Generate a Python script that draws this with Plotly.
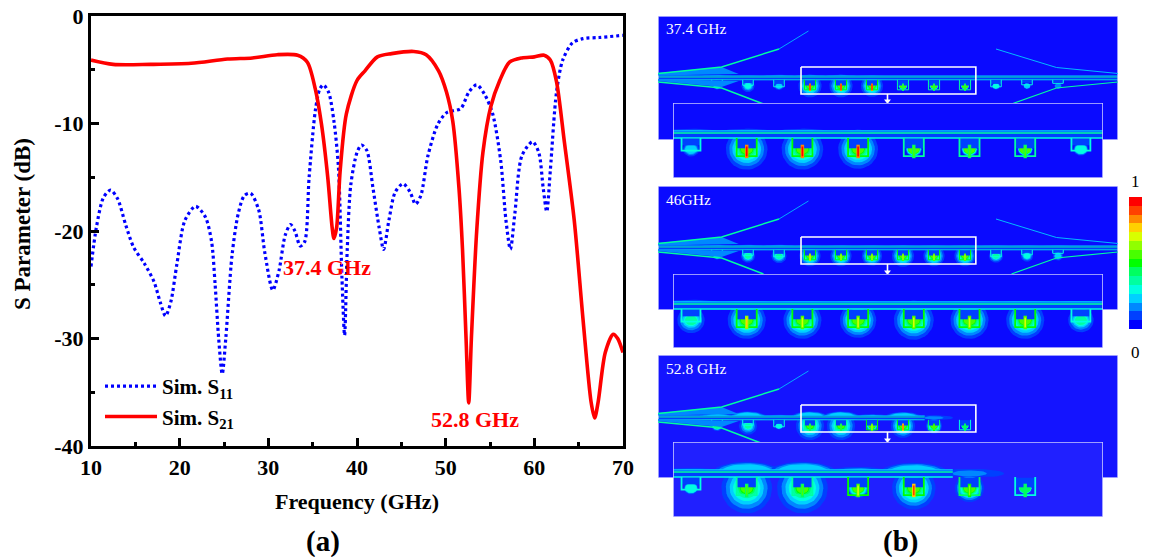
import numpy as np
import plotly.graph_objects as go

W, H = 1152, 557
FONT = "Liberation Serif"

# ---------- panel (a) data ----------
f_s11 = [10,10.6,11.4,12.2,13,13.9,14.8,16,17.1,17.8,18.4,19,19.7,20.6,21.8,22.9,23.6,24,24.4,24.8,25.2,25.9,26.6,27.3,28,28.9,29.6,30.5,31.2,31.9,32.5,33,33.6,34.1,34.6,35.3,35.8,36.2,36.8,37.4,37.9,38.3,38.6,38.9,39.3,40,40.5,41.1,41.8,42.5,43,43.6,44.3,45.2,46,46.6,47.2,48,49.1,50.1,51.7,52.6,53.5,54.4,55.3,56.2,56.8,57.3,57.8,58.6,59.8,60.5,61,61.4,61.8,62.5,63.2,64.3,65.5,67.3,70]
s11 = [-23.3,-19.7,-16.9,-16.2,-17,-19.4,-21.5,-23,-24.7,-26.6,-27.9,-26.6,-23,-19,-17.7,-18.7,-21,-25,-30,-33.3,-30,-22.3,-18.4,-16.7,-16.5,-18,-22,-25.5,-23.7,-20.4,-19.4,-20,-21.4,-21,-15,-8.8,-6.8,-6.4,-7.1,-9.8,-14,-24.3,-29.7,-21.7,-15.7,-12.7,-12,-12.5,-16,-19.7,-21.7,-19,-16.4,-15.6,-16.4,-17.5,-16.7,-13,-10.1,-9,-8.6,-7.1,-6.4,-7.3,-9.1,-13.4,-19,-21.7,-18.4,-13,-11.7,-12.7,-16,-18.2,-14.4,-7.1,-4.1,-2.5,-2.1,-2,-1.8]
f_s21 = [10,12.5,16.7,21.3,25.4,28.2,31,33.3,34.4,35.3,36,36.7,37.2,37.4,37.7,38.1,38.8,40,40.9,42.3,43.9,46.4,47.8,49.2,50.1,50.8,51.5,51.9,52.3,52.6,52.9,53.5,54.2,55.1,56.1,57.2,58.6,60,61.1,61.8,62.5,63.4,64.5,65.5,66.4,66.8,67.2,68,68.9,69.4,70]
s21 = [-4.1,-4.5,-4.5,-4.4,-4,-3.9,-3.6,-3.65,-4.3,-6.8,-10.1,-15,-19.7,-20.7,-19.7,-14.4,-9.1,-6,-5.1,-3.8,-3.5,-3.3,-3.6,-5.1,-7.1,-9.8,-16,-21.7,-30,-36,-30,-20,-12.7,-8.4,-6,-4.3,-3.9,-3.8,-3.65,-4.1,-6.1,-11.8,-19,-28.3,-35.9,-37.4,-35.9,-31.3,-29.6,-30,-31.3]

x_ticks = [10,20,30,40,50,60,70]
y_ticks = [0,-10,-20,-30,-40]

# ---------- panel (b) data: field strength per resonator ----------
resonators = [-2,-1,0,1,2,3,4,5,6,7,8,9]
freq_labels = ["37.4 GHz","46GHz","52.8 GHz"]
peak_37 = [3,4,3,14,14,14,8,8,8,4,3,2]
spread_37 = [1,3.5,1.5,8.5,8.5,8,1.5,1.5,1.2,1,.5,.5]
lobe_37 = [3,2,3,3,3,2,0,0,0,0,0,0]
peak_46 = [3,5,5,11,10,10,10,10,10,5,4,3]
spread_46 = [1,4,4.5,7.5,7.5,7,8,7.5,7.5,4,3,2]
lobe_46 = [3,3,3,2,2,2,2,2,2,2,2,2]
peak_52 = [6,5,4,8,8,10,13,9,6,0,0,0]
spread_52 = [2.5,6,1,11,11,3,9,5,.8,0,0,0]
lobe_52 = [6,9,3,9,9,4,8,2,0,0,0,0]
color_levels = ["#0000ff","#0040ff","#0088ff","#00d0ff","#00ffe0","#00ffa0","#00ff60","#00ff00","#48ff00","#90ff00","#d8ff00","#ffd000","#ff8800","#ff4000","#ff0000"]

fig = go.Figure()
layout = {}

fig.add_trace(go.Scatter(x=f_s11, y=s11, mode="lines", name="<b>Sim. S<sub>11</sub></b>",
                         line=dict(color="#0000ff", width=3.2, dash="3px 3px", shape="spline", smoothing=0.8)))
fig.add_trace(go.Scatter(x=f_s21, y=s21, mode="lines", name="<b>Sim. S<sub>21</sub></b>",
                         line=dict(color="#ff0000", width=3.6, shape="spline", smoothing=0.8)))

def dom_x(a, b): return [a / W, b / W]
def dom_y(a, b): return [1 - b / H, 1 - a / H]

axis_style = dict(showline=True, linecolor="black", linewidth=3, mirror=True, ticks="inside", ticklen=8,
                  tickwidth=3, tickcolor="black", showgrid=False, zeroline=False, automargin=False,
                  tickfont=dict(family=FONT, size=22, color="black"),
                  minor=dict(ticks="inside", ticklen=4, tickwidth=3, tickcolor="black", showgrid=False))
layout["xaxis"] = dict(domain=dom_x(91, 623), range=[10, 70], tickvals=x_ticks, ticktext=[f"<b>{v}</b>" for v in x_ticks],
                       minor_dtick=5, minor_tick0=0,
                       title=dict(text="<b>Frequency (GHz)</b>", font=dict(family=FONT, size=22, color="black")),
                       **axis_style)
layout["yaxis"] = dict(domain=dom_y(16, 446), range=[-40, 0], tickvals=y_ticks, ticktext=[f"<b>{v}</b>" for v in y_ticks],
                       minor_dtick=5, minor_tick0=0,
                       **axis_style)

def add(xa, ya, x, y, color, width=0, fill=False, dash=None):
    kw = dict(x=x, y=y, mode="lines", xaxis=xa, yaxis=ya, showlegend=False, hoverinfo="skip",
              line=dict(color=color, width=width, dash=dash))
    if fill:
        kw.update(fill="toself", fillcolor=color, line=dict(color=color, width=width))
    fig.add_trace(go.Scatter(**kw))

def ellipse(cx, cy, rx, ry):
    t = np.linspace(0, 2 * np.pi, 40)
    return cx + rx * np.cos(t), cy + ry * np.sin(t)

def draw_field(xa, ya, xr, yr, peak, spread, lobe, feed_end, s, bg, outline):
    c = color_levels
    add(xa, ya, [xr[0], xr[1], xr[1], xr[0], xr[0]], [yr[0], yr[0], yr[1], yr[1], yr[0]], bg, 0, True)
    # blobs under the resonators
    for i, pk, sp in zip(resonators, peak, spread):
        if pk == 0 or sp == 0:
            continue
        top = min(pk, 8)
        for l in range(1, top + 1):
            k = (1 - (l - 1) / top) ** 1.9
            ex, ey = ellipse(i, 9, sp * k / 31 + 0.1, sp * k * 1.05 + 2.5)
            add(xa, ya, ex, ey, c[l], 0, True)
    # lobes over the feed line: closed at the lower ground edge
    for i, pk, sp, lb in zip(resonators, peak, spread, lobe):
        for l in range(1, min(lb, 3) + 1):
            k = 1 - (l - 1) / max(lb, 1)
            ex, ey = ellipse(i, 0.8, 0.62 * k, (0.7 + lb * .55) * k + .8)
            add(xa, ya, np.clip(ex, xr[0], xr[1]), np.minimum(ey, 2.6), c[l], 0, True)
    # halo of the feed line
    x0, x1 = xr[0], min(feed_end, xr[1])
    add(xa, ya, [x0, x1], [0.8, 0.8], c[1], 4 * s)
    # feed line
    add(xa, ya, [x0, x1], [0, 0], c[5], 0.9 * s)
    add(xa, ya, [x0, x1], [-1.2, -1.2], c[3], 0.7 * s)
    add(xa, ya, [x0, x1], [2.8, 2.8], c[4], 0.8 * s)
    # resonators
    depth = dict(zip(resonators, [3.5, 5.5, 7, 10, 10, 10, 10, 10, 10, 7, 5, 3.5]))
    for i, pk in zip(resonators, peak):
        if pk == 0:
            continue
        d = depth[i]
        hw = 0.18 if 1 <= i <= 6 else 0.17
        add(xa, ya, [i - hw, i + hw, i + hw, i - hw, i - hw], [3.2, 3.2, 3 + d * .55, 3 + d * .55, 3.2], c[1], 0, True)
        ucol = c[min(max(pk - 3, 4), 7)]
        add(xa, ya, [i - hw, i - hw, i + hw, i + hw], [2.8, 2.8 + d, 2.8 + d, 2.8], ucol, 1.0 * s)
        if 1 <= i <= 6:
            add(xa, ya, [i, i], [6.5, 14], c[max(pk - 2, 6)], 1.9 * s)
            add(xa, ya, [i, i], [7.5, 13], c[pk], 0.9 * s)

PANELS = [
    dict(top=16, bot=140, line=77, it=103, ib=178, box=(-10, 17), lbl=freq_labels[0], peak=peak_37, spread=spread_37, lobe=lobe_37, end=99, arms=True, bg="#0a0aff", ibg="#0a0aff"),
    dict(top=186, bot=310, line=247, it=274, ib=348, box=(-10, 17), lbl=freq_labels[1], peak=peak_46, spread=spread_46, lobe=lobe_46, end=99, arms=True, bg="#0a0aff", ibg="#0a0aff"),
    dict(top=355, bot=478, line=417, it=442, ib=517, box=(-12, 15), lbl=freq_labels[2], peak=peak_52, spread=spread_52, lobe=lobe_52, end=4.7, arms=False, bg="#1414ff", ibg="#2020ff"),
]
OUT = "#c8c8ff"
ax_n = 2
annots = []
for p in PANELS:
    xa, ya = f"x{ax_n}", f"y{ax_n}"
    xb, yb = f"x{ax_n+1}", f"y{ax_n+1}"
    hidden = dict(visible=False, showgrid=False, zeroline=False, automargin=False)
    # the strip view: x is resonator number (31 px apart), y is distance from the feed line
    xr = [1 + (658 - 810) / 31, 1 + (1118 - 810) / 31]
    yr = [p["top"] - p["line"], p["bot"] - p["line"]]
    layout[f"xaxis{ax_n}"] = dict(domain=dom_x(658, 1118), range=xr, anchor=ya, **hidden)
    layout[f"yaxis{ax_n}"] = dict(domain=dom_y(p["top"], p["bot"]), range=[yr[1], yr[0]], anchor=xa, **hidden)
    # tapered arms
    draw_field(xa, ya, xr, yr, p["peak"], p["spread"], p["lobe"], p["end"], 1.0, p["bg"], OUT)
    add(xa, ya, [xr[0], xr[1], xr[1], xr[0], xr[0]], [yr[0], yr[0], yr[1], yr[1], yr[0]], OUT, 1.5)
    cy = color_levels[5]
    add(xa, ya, [-3.9, -1.85, -1.3, -3.9, -3.9], [-4, -10, -3, -1.5, -4], color_levels[2], 0, True)
    add(xa, ya, [-3.9, -1.85, -1.3, -3.9, -3.9], [4, 10, 4, 2, 4], color_levels[2], 0, True)
    add(xa, ya, [-3.9, -1.85, 0.0], [-3.5, -10, -28], cy, 1.4)
    add(xa, ya, [0.0, 0.95], [-28, -46], color_levels[3], 0.8)
    add(xa, ya, [-3.9, -1.85, -0.5], [5, 11, 27], cy, 1.4)
    if p["arms"]:
        add(xa, ya, [10.94, 8.95, 7.0], [-3.5, -9.5, -28], color_levels[3], 0.9)
        add(xa, ya, [10.94, 8.95, 7.5], [5, 11, 27], color_levels[5], 1.2)
    b0, b1 = p["box"]
    bx = [0.71, 6.35, 6.35, 0.71, 0.71]
    add(xa, ya, bx, [b0, b0, b1, b1, b0], "#ffffff", 1.6)
    ty = p["it"] - p["line"]
    add(xa, ya, [3.5, 3.5], [b1, ty - 1], "#ffffff", 1.6)
    fig.add_trace(go.Scatter(x=[3.5], y=[ty - 2], mode="markers", xaxis=xa, yaxis=ya, showlegend=False, hoverinfo="skip",
                             marker=dict(symbol="triangle-down", size=6, color="#ffffff")))
    annots.append(dict(text=p["lbl"], xref="paper", yref="paper", x=664 / W, y=1 - (p["top"] + 13) / H, xanchor="left", yanchor="middle",
                       showarrow=False, font=dict(family=FONT, size=15.5, color="#ffffff")))

    # the enlarged inset: same units, 1.8 times the scale
    line_i = p["it"] + 30
    xri = [1 + (673 - 746.7) / 55.7, 1 + (1103 - 746.7) / 55.7]
    yri = [(p["it"] - line_i) / 1.8, (p["ib"] - line_i) / 1.8]
    layout[f"xaxis{ax_n+1}"] = dict(domain=dom_x(673, 1103), range=xri, anchor=yb, **hidden)
    layout[f"yaxis{ax_n+1}"] = dict(domain=dom_y(p["it"], p["ib"]), range=[yri[1], yri[0]], anchor=xb, **hidden)
    draw_field(xb, yb, xri, yri, p["peak"], p["spread"], p["lobe"], p["end"], 1.8, p["ibg"], OUT)
    add(xb, yb, [xri[0], xri[1], xri[1], xri[0], xri[0]], [yri[0], yri[0], yri[1], yri[1], yri[0]], OUT, 1.6)
    ax_n += 2

# colour scale
n = len(color_levels)
scale = []
for i, col in enumerate(color_levels):
    scale += [[i / n, col], [(i + 1) / n, col]]
fig.add_trace(go.Heatmap(z=[[i] for i in range(n)], colorscale=scale, zmin=-0.5, zmax=n - 0.5, showscale=False,
                         xaxis=f"x{ax_n}", yaxis=f"y{ax_n}", hoverinfo="skip"))
layout[f"xaxis{ax_n}"] = dict(domain=dom_x(1129, 1142), anchor=f"y{ax_n}", visible=False, automargin=False)
layout[f"yaxis{ax_n}"] = dict(domain=dom_y(197, 329), anchor=f"x{ax_n}", visible=False, automargin=False)

def note(text, x, y, size, color="black", angle=0):
    annots.append(dict(text=text, xref="paper", yref="paper", x=x / W, y=1 - y / H, xanchor="center", yanchor="middle",
                       showarrow=False, textangle=angle, font=dict(family=FONT, size=size, color=color)))

note("<b>37.4 GHz</b>", 327, 267, 22, "#ff0000")
note("<b>52.8 GHz</b>", 475, 419, 22, "#ff0000")
note("<b>(a)</b>", 323, 541, 29)
note("<b>(b)</b>", 900, 541, 29)
note("1", 1135, 181, 17)
note("0", 1135, 352, 17)
note("<b>S Parameter (dB)</b>", 22, 224, 23, angle=-90)

fig.update_layout(width=W, height=H, margin=dict(l=0, r=0, t=0, b=0, autoexpand=False), paper_bgcolor="white", plot_bgcolor="white",
                  annotations=annots, showlegend=True,
                  legend=dict(x=100 / W, y=1 - 366 / H, xanchor="left", yanchor="top", bgcolor="rgba(0,0,0,0)", borderwidth=0,
                              font=dict(family=FONT, size=21, color="black"), itemwidth=52, tracegroupgap=0),
                  **layout)
fig.write_html("out.html", config=dict(displayModeBar=False), post_script="document.body.style.margin='0';document.documentElement.style.overflow='hidden';")
